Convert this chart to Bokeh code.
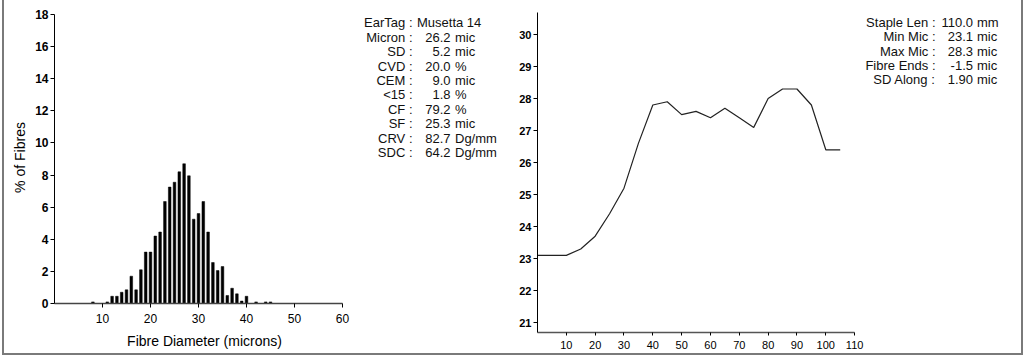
from bokeh.plotting import figure
from bokeh.models import Range1d, FixedTicker, ColumnDataSource
from bokeh.layouts import row
from bokeh.core.properties import value
from bokeh.embed import file_html
from bokeh.resources import INLINE

# ---------------- data ----------------
fibre_diameter = [8, 11, 12, 13, 14, 15, 16, 17, 18, 19, 20,
                  21, 22, 23, 24, 25, 26, 27, 28, 29, 30,
                  31, 32, 33, 34, 35, 36, 37, 38, 39, 40,
                  42, 44, 45]
pct_fibres = [0.1, 0.1, 0.45, 0.45, 0.7, 0.85, 1.7, 0.85, 2.1, 3.2, 3.2,
              4.2, 4.45, 6.35, 7.25, 7.55, 8.2, 8.7, 7.95, 5.25, 5.6,
              6.35, 4.45, 2.55, 2.05, 2.3, 0.5, 0.95, 0.6, 0.15, 0.45,
              0.1, 0.1, 0.1]

length_mm = [0, 5, 10, 15, 20, 25, 30, 35, 40, 45, 50,
             55, 60, 65, 70, 75, 80, 85, 90, 95, 100, 105]
micron_along = [23.1, 23.1, 23.1, 23.3, 23.7, 24.4, 25.2, 26.6, 27.8, 27.9, 27.5,
                27.6, 27.4, 27.7, 27.4, 27.1, 28.0, 28.3, 28.3, 27.8, 26.4, 26.4]

hist_x_ticks = [10, 20, 30, 40, 50, 60]
hist_y_ticks = [0, 2, 4, 6, 8, 10, 12, 14, 16, 18]
prof_x_ticks = [10, 20, 30, 40, 50, 60, 70, 80, 90, 100, 110]
prof_y_ticks = [21, 22, 23, 24, 25, 26, 27, 28, 29, 30]

left_stat_names = ["EarTag", "Micron", "SD", "CVD", "CEM", "<15", "CF", "SF", "CRV", "SDC"]
left_stat_values = ["", "26.2", "5.2", "20.0", "9.0", "1.8", "79.2", "25.3", "82.7", "64.2"]
left_stat_units = ["", "mic", "mic", "%", "mic", "%", "%", "mic", "Dg/mm", "Dg/mm"]
ear_tag = "Musetta 14"

right_stat_names = ["Staple Len", "Min Mic", "Max Mic", "Fibre Ends", "SD Along"]
right_stat_values = ["110.0", "23.1", "28.3", "-1.5", "1.90"]
right_stat_units = ["mm", "mic", "mic", "mic", "mic"]

FONT = "Liberation Sans"
H = 358


def base(p):
    p.frame_align = False
    p.xgrid.visible = False
    p.ygrid.visible = False
    p.outline_line_color = None
    p.background_fill_color = None
    p.border_fill_color = None


def style_axes(p, xb, yb, xt, yt, xfs, yfs):
    base(p)
    p.xaxis.bounds = xb
    p.yaxis.bounds = yb
    p.xaxis.ticker = FixedTicker(ticks=xt)
    p.yaxis.ticker = FixedTicker(ticks=yt)
    for ax in (p.xaxis, p.yaxis):
        ax.minor_tick_line_color = None
        ax.major_tick_in = 0
        ax.major_tick_out = 4
        ax.axis_line_color = "black"
        ax.major_tick_line_color = "black"
        ax.major_label_text_color = "black"
        ax.axis_label_text_color = "black"
        ax.axis_label_text_font = FONT
        ax.axis_label_text_font_style = "normal"
        ax.axis_label_text_font_size = "14px"
    p.xaxis.major_label_text_font = FONT
    p.xaxis.major_label_text_font_size = xfs
    p.yaxis.major_label_text_font = FONT
    p.yaxis.major_label_text_font_style = "bold"
    p.yaxis.major_label_text_font_size = yfs
    p.yaxis.major_label_standoff = 2


common = dict(text_font=value(FONT), text_font_size="13px", text_color="#111",
              text_baseline="middle")

# ---------------- left: histogram ----------------
L_PXU_X, L_PXU_Y = 4.8, 16.06
p1 = figure(width=354, height=H, x_range=Range1d(0, 300 / L_PXU_X),
            y_range=Range1d(0, 292 / L_PXU_Y), output_backend="svg",
            toolbar_location=None, min_border_left=54, min_border_right=0,
            min_border_top=11, min_border_bottom=55)
p1.vbar(x=fibre_diameter, top=pct_fibres, width=0.55, fill_color="black",
        line_color="black", line_width=0.5)
style_axes(p1, (0, 60), (0, 18), hist_x_ticks, hist_y_ticks, "12px", "12px")
p1.xaxis.axis_line_color = "#444"
p1.xaxis.axis_line_width = 1.5
p1.xaxis.major_label_standoff = 6
p1.xaxis.axis_label = "Fibre Diameter (microns)"
p1.xaxis.axis_label_standoff = 7
p1.yaxis.axis_label = "% of Fibres"
p1.yaxis.axis_label_standoff = 4

# ---------------- middle: fibre statistics ----------------
pm = figure(width=154, height=H, x_range=Range1d(354, 508), y_range=Range1d(H, 0),
            output_backend="svg", toolbar_location=None, min_border=0,
            x_axis_location=None, y_axis_location=None)
base(pm)
ys_left = [22.3 + 14.4 * i for i in range(len(left_stat_names))]
src_l = ColumnDataSource(dict(
    y=ys_left,
    lab=[n + " :" for n in left_stat_names],
    val=left_stat_values,
    unit=left_stat_units,
))
pm.text(x=412, y="y", text="lab", source=src_l, text_align="right", **common)
pm.text(x=450, y="y", text="val", source=src_l, text_align="right", **common)
pm.text(x=454.5, y="y", text="unit", source=src_l, text_align="left", **common)
pm.text(x=[416.5], y=[ys_left[0]], text=[ear_tag], text_align="left", **common)

# ---------------- right: profile ----------------
R_LEFT, R_PXU_X, R_BOTTOM, R_PXU_Y, R_Y0 = 537.0, 2.883, 332.0, 32.0, 20.69

p2 = figure(width=516, height=H, x_range=Range1d(0, 487 / R_PXU_X),
            y_range=Range1d(R_Y0, R_Y0 + 320 / R_PXU_Y), output_backend="svg",
            toolbar_location=None, min_border_left=29, min_border_right=0,
            min_border_top=12, min_border_bottom=26)
p2.line(x=length_mm, y=micron_along, line_color="#222", line_width=1.2)
style_axes(p2, (0, 110), (R_Y0, R_Y0 + 320 / R_PXU_Y), prof_x_ticks, prof_y_ticks,
           "11px", "11px")
p2.xaxis.axis_line_color = "#555"
p2.xaxis.axis_line_width = 1.5
p2.xaxis.major_tick_out = 3
p2.xaxis.major_label_standoff = 5


def rx(px):
    return (px - R_LEFT) / R_PXU_X


def ry(py):
    return R_Y0 + (R_BOTTOM - py) / R_PXU_Y


ys_right = [ry(21.7 + 14.4 * i) for i in range(len(right_stat_names))]
src_r = ColumnDataSource(dict(
    y=ys_right,
    lab=[n + " :" for n in right_stat_names],
    val=right_stat_values,
    unit=right_stat_units,
))
p2.text(x=rx(935), y="y", text="lab", source=src_r, text_align="right", **common)
p2.text(x=rx(972.5), y="y", text="val", source=src_r, text_align="right", **common)
p2.text(x=rx(976.5), y="y", text="unit", source=src_r, text_align="left", **common)

frame_css = ("linear-gradient(#7a7a7a,#7a7a7a) 2px 0 / 2px 355px no-repeat, "
             "linear-gradient(#7a7a7a,#7a7a7a) 1021px 0 / 2px 355px no-repeat, "
             "linear-gradient(#7a7a7a,#7a7a7a) 2px 353px / 1021px 2px no-repeat")
layout = row(p1, pm, p2, styles={"background": frame_css})
open("out.html", "w").write(file_html(layout, INLINE))
